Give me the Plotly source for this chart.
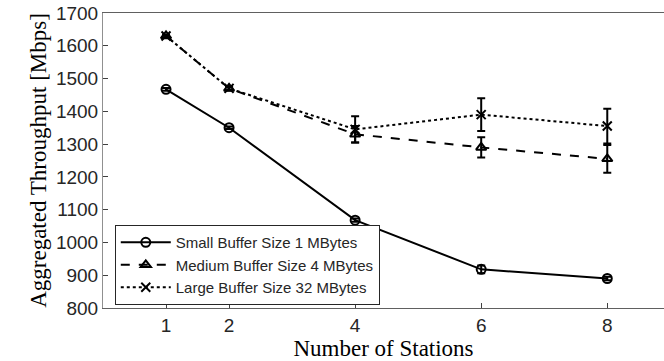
import plotly.graph_objects as go

stations = [1, 2, 4, 6, 8]

small_tp = [1467, 1350, 1068, 918, 890]
small_err = [4, 4, 5, 12, 5]

medium_tp = [1630, 1470, 1330, 1290, 1255]
medium_err = [4, 6, 25, 31, 42]

large_tp = [1630, 1470, 1345, 1390, 1355]
large_err = [4, 6, 40, 50, 53]

names = ["Small Buffer Size 1 MBytes", "Medium Buffer Size 4 MBytes", "Large Buffer Size 32 MBytes"]
dashes = ["solid", "dash", "dot"]
symbols = ["circle-open", "triangle-up-open", "x-thin-open"]

fig = go.Figure()
for name, ys, err, dash, sym in zip(names, [small_tp, medium_tp, large_tp],
                                    [small_err, medium_err, large_err], dashes, symbols):
    fig.add_trace(go.Scatter(
        x=stations, y=ys, name=name, mode="lines+markers",
        line=dict(color="black", width=2, dash=dash),
        marker=dict(symbol=sym, size=9, color="black", line=dict(width=2, color="black")),
        error_y=dict(type="data", array=err, visible=True, color="black", thickness=2, width=4),
    ))

fig.update_layout(
    width=664, height=361,
    margin=dict(l=103, r=0, t=13, b=53, autoexpand=False),
    plot_bgcolor="white", paper_bgcolor="white",
    font=dict(family="Liberation Sans, Arial", size=19, color="#262626"),
    legend=dict(
        x=0.021, y=0.01, xanchor="left", yanchor="bottom",
        bgcolor="white", bordercolor="#262626", borderwidth=1,
        font=dict(size=15, color="#262626"), tracegroupgap=0, itemwidth=50,
    ),
    showlegend=True,
)
fig.update_xaxes(
    range=[0, 8.9], tickvals=stations, showgrid=False, zeroline=False,
    showline=True, linecolor="#606060", linewidth=1, mirror=True,
    ticks="inside", ticklen=5, tickcolor="#404040",
    title=dict(text="Number of Stations", font=dict(family="Liberation Serif, Times New Roman", size=23, color="black"), standoff=0),
)
fig.update_yaxes(
    range=[800, 1700], dtick=100, showgrid=False, zeroline=False,
    showline=True, linecolor="#909090", linewidth=1, mirror=False,
    ticks="inside", ticklen=5, tickcolor="#404040",
    title=dict(text="Aggregated Throughput [Mbps]", font=dict(family="Liberation Serif, Times New Roman", size=23, color="black"), standoff=2),
)

# body margin would shift the 664x361 figure inside the window
fig.write_html(
    "out.html",
    config={"displayModeBar": False},
    post_script="document.body.style.margin='0';document.body.style.overflow='hidden';"
                "document.documentElement.style.overflow='hidden';",
)
